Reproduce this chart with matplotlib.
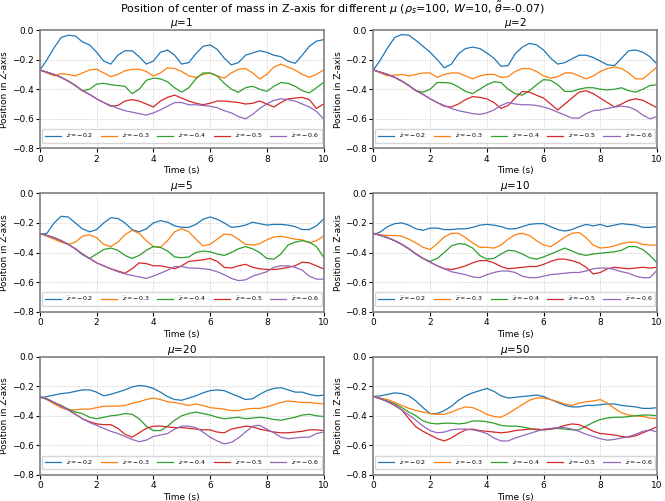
#!/usr/bin/env python3
"""
Position of center of mass in Z-axis for different mu, 3x2 grid.
"""
import matplotlib
matplotlib.use('Agg')
import matplotlib.pyplot as plt
import numpy as np

# time axis, 0.25 s samples
time = np.arange(0, 10.01, 0.25)

z_levels = [-0.2, -0.3, -0.4, -0.5, -0.6]
mu_values = [1, 2, 5, 10, 20, 50]

# ---- mu = 1 ----
mu1_z02 = [-0.27, -0.20, -0.12, -0.05, -0.035, -0.04, -0.08, -0.10, -0.15, -0.21, -0.23,
           -0.17, -0.14, -0.14, -0.18, -0.23, -0.21, -0.15, -0.135, -0.17, -0.23,
           -0.22, -0.16, -0.11, -0.10, -0.13, -0.19, -0.235, -0.22, -0.17, -0.155,
           -0.14, -0.15, -0.17, -0.18, -0.21, -0.225, -0.17, -0.11, -0.075, -0.065]
mu1_z03 = [-0.27, -0.29, -0.31, -0.295, -0.30, -0.31, -0.29, -0.27, -0.265, -0.29, -0.315,
           -0.30, -0.275, -0.265, -0.265, -0.28, -0.31, -0.29, -0.255, -0.26, -0.28,
           -0.31, -0.32, -0.30, -0.29, -0.31, -0.325, -0.29, -0.265, -0.26, -0.29,
           -0.33, -0.30, -0.25, -0.23, -0.25, -0.27, -0.30, -0.32, -0.30, -0.27]
mu1_z04 = [-0.27, -0.285, -0.30, -0.32, -0.345, -0.375, -0.41, -0.40, -0.365, -0.36, -0.37,
           -0.375, -0.38, -0.43, -0.40, -0.34, -0.325, -0.33, -0.35, -0.39, -0.42,
           -0.39, -0.33, -0.29, -0.29, -0.31, -0.36, -0.40, -0.42, -0.39, -0.38,
           -0.40, -0.415, -0.38, -0.355, -0.36, -0.38, -0.41, -0.425, -0.39, -0.355]
mu1_z05 = [-0.27, -0.285, -0.30, -0.32, -0.345, -0.375, -0.41, -0.435, -0.465, -0.49, -0.515,
           -0.51, -0.48, -0.47, -0.48, -0.50, -0.52, -0.48, -0.455, -0.44, -0.46,
           -0.48, -0.495, -0.505, -0.495, -0.48, -0.48, -0.485, -0.49, -0.50, -0.495,
           -0.48, -0.50, -0.52, -0.49, -0.465, -0.46, -0.455, -0.47, -0.53, -0.50]
mu1_z06 = [-0.27, -0.285, -0.30, -0.32, -0.345, -0.375, -0.41, -0.435, -0.465, -0.49, -0.51,
           -0.53, -0.545, -0.555, -0.565, -0.575, -0.56, -0.54, -0.515, -0.49, -0.49,
           -0.505, -0.505, -0.51, -0.515, -0.525, -0.545, -0.56, -0.585, -0.60, -0.57,
           -0.53, -0.50, -0.475, -0.465, -0.47, -0.48, -0.50, -0.52, -0.55, -0.60]

# ---- mu = 2 ----
mu2_z02 = [-0.27, -0.20, -0.12, -0.05, -0.03, -0.035, -0.07, -0.11, -0.15, -0.20, -0.255,
           -0.23, -0.16, -0.125, -0.115, -0.125, -0.155, -0.19, -0.245, -0.24, -0.16,
           -0.115, -0.09, -0.10, -0.135, -0.19, -0.23, -0.22, -0.195, -0.17, -0.17,
           -0.185, -0.21, -0.235, -0.24, -0.19, -0.14, -0.135, -0.15, -0.18, -0.23]
mu2_z03 = [-0.27, -0.29, -0.31, -0.305, -0.30, -0.31, -0.30, -0.29, -0.29, -0.32, -0.30,
           -0.29, -0.29, -0.31, -0.33, -0.31, -0.30, -0.30, -0.32, -0.315, -0.28,
           -0.26, -0.26, -0.28, -0.31, -0.325, -0.315, -0.29, -0.29, -0.31, -0.33,
           -0.31, -0.28, -0.26, -0.25, -0.26, -0.29, -0.33, -0.33, -0.29, -0.25]
mu2_z04 = [-0.27, -0.285, -0.30, -0.32, -0.345, -0.375, -0.41, -0.42, -0.40, -0.355, -0.355,
           -0.36, -0.385, -0.415, -0.43, -0.40, -0.37, -0.35, -0.355, -0.40, -0.43,
           -0.44, -0.41, -0.37, -0.335, -0.34, -0.37, -0.415, -0.415, -0.40, -0.39,
           -0.39, -0.40, -0.405, -0.40, -0.39, -0.41, -0.42, -0.40, -0.375, -0.37]
mu2_z05 = [-0.27, -0.285, -0.30, -0.32, -0.345, -0.375, -0.41, -0.435, -0.465, -0.49, -0.515,
           -0.52, -0.50, -0.47, -0.45, -0.455, -0.465, -0.49, -0.53, -0.51, -0.46,
           -0.415, -0.42, -0.44, -0.46, -0.50, -0.54, -0.50, -0.46, -0.42, -0.41,
           -0.43, -0.46, -0.49, -0.52, -0.50, -0.475, -0.465, -0.475, -0.50, -0.525]
mu2_z06 = [-0.27, -0.285, -0.30, -0.32, -0.345, -0.375, -0.41, -0.435, -0.465, -0.49, -0.51,
           -0.53, -0.545, -0.555, -0.565, -0.57, -0.56, -0.54, -0.51, -0.49, -0.50,
           -0.505, -0.505, -0.51, -0.52, -0.535, -0.555, -0.575, -0.595, -0.595, -0.565,
           -0.545, -0.54, -0.53, -0.52, -0.515, -0.52, -0.54, -0.575, -0.60, -0.585]

# ---- mu = 5 ----
mu5_z02 = [-0.28, -0.27, -0.20, -0.155, -0.16, -0.20, -0.24, -0.26, -0.245, -0.20, -0.165,
           -0.17, -0.20, -0.245, -0.26, -0.24, -0.20, -0.185, -0.195, -0.22, -0.23,
           -0.23, -0.21, -0.175, -0.16, -0.175, -0.20, -0.23, -0.225, -0.215, -0.195,
           -0.205, -0.215, -0.21, -0.21, -0.215, -0.225, -0.245, -0.245, -0.22, -0.175]
mu5_z03 = [-0.27, -0.29, -0.31, -0.33, -0.345, -0.33, -0.29, -0.28, -0.30, -0.345, -0.36,
           -0.33, -0.28, -0.25, -0.27, -0.32, -0.36, -0.365, -0.32, -0.26, -0.24,
           -0.26, -0.31, -0.355, -0.345, -0.31, -0.275, -0.28, -0.31, -0.345, -0.35,
           -0.34, -0.315, -0.295, -0.29, -0.30, -0.31, -0.315, -0.335, -0.32, -0.29]
mu5_z04 = [-0.27, -0.285, -0.30, -0.32, -0.345, -0.375, -0.415, -0.44, -0.41, -0.38, -0.37,
           -0.385, -0.42, -0.44, -0.42, -0.385, -0.36, -0.365, -0.39, -0.43, -0.435,
           -0.43, -0.40, -0.39, -0.395, -0.41, -0.42, -0.40, -0.375, -0.36, -0.375,
           -0.40, -0.44, -0.445, -0.41, -0.35, -0.33, -0.32, -0.33, -0.36, -0.43]
mu5_z05 = [-0.27, -0.285, -0.30, -0.32, -0.345, -0.375, -0.41, -0.44, -0.47, -0.49, -0.51,
           -0.525, -0.54, -0.51, -0.47, -0.475, -0.49, -0.49, -0.50, -0.51, -0.49,
           -0.46, -0.455, -0.45, -0.44, -0.46, -0.50, -0.505, -0.49, -0.48, -0.50,
           -0.51, -0.515, -0.515, -0.51, -0.50, -0.49, -0.465, -0.47, -0.49, -0.51]
mu5_z06 = [-0.27, -0.285, -0.30, -0.32, -0.345, -0.375, -0.41, -0.44, -0.47, -0.49, -0.51,
           -0.53, -0.545, -0.555, -0.565, -0.575, -0.56, -0.54, -0.52, -0.495, -0.495,
           -0.505, -0.505, -0.51, -0.515, -0.53, -0.55, -0.575, -0.59, -0.585, -0.56,
           -0.545, -0.53, -0.50, -0.49, -0.49, -0.50, -0.52, -0.56, -0.58, -0.58]

# ---- mu = 10 ----
mu10_z02 = [-0.28, -0.26, -0.225, -0.205, -0.20, -0.215, -0.24, -0.25, -0.235, -0.235, -0.245,
            -0.245, -0.24, -0.24, -0.23, -0.215, -0.21, -0.215, -0.225, -0.24, -0.24,
            -0.225, -0.21, -0.205, -0.205, -0.225, -0.245, -0.255, -0.245, -0.225, -0.21,
            -0.22, -0.21, -0.225, -0.215, -0.205, -0.21, -0.215, -0.23, -0.23, -0.225]
mu10_z03 = [-0.27, -0.28, -0.285, -0.285, -0.29, -0.31, -0.335, -0.365, -0.38, -0.34, -0.295,
            -0.27, -0.27, -0.30, -0.335, -0.365, -0.365, -0.37, -0.35, -0.31, -0.28,
            -0.27, -0.285, -0.32, -0.35, -0.36, -0.33, -0.295, -0.27, -0.265, -0.30,
            -0.35, -0.37, -0.365, -0.355, -0.34, -0.33, -0.33, -0.345, -0.35, -0.35]
mu10_z04 = [-0.27, -0.285, -0.30, -0.32, -0.345, -0.375, -0.41, -0.44, -0.46, -0.44, -0.40,
            -0.355, -0.34, -0.345, -0.37, -0.42, -0.445, -0.44, -0.41, -0.385, -0.39,
            -0.41, -0.435, -0.445, -0.43, -0.41, -0.39, -0.37, -0.39, -0.41, -0.42,
            -0.41, -0.405, -0.40, -0.395, -0.385, -0.36, -0.36, -0.38, -0.42, -0.47]
mu10_z05 = [-0.27, -0.285, -0.30, -0.32, -0.345, -0.375, -0.41, -0.44, -0.465, -0.49, -0.51,
            -0.515, -0.505, -0.49, -0.47, -0.455, -0.455, -0.47, -0.495, -0.51, -0.505,
            -0.50, -0.495, -0.495, -0.48, -0.46, -0.445, -0.445, -0.455, -0.47, -0.50,
            -0.545, -0.535, -0.51, -0.50, -0.505, -0.51, -0.505, -0.50, -0.505, -0.50]
mu10_z06 = [-0.27, -0.285, -0.30, -0.32, -0.345, -0.375, -0.41, -0.44, -0.465, -0.49, -0.51,
            -0.53, -0.54, -0.55, -0.565, -0.57, -0.55, -0.535, -0.525, -0.525, -0.535,
            -0.56, -0.57, -0.57, -0.56, -0.55, -0.545, -0.54, -0.535, -0.535, -0.525,
            -0.51, -0.505, -0.505, -0.515, -0.53, -0.54, -0.56, -0.57, -0.57, -0.52]

# ---- mu = 20 ----
mu20_z02 = [-0.28, -0.27, -0.26, -0.25, -0.245, -0.235, -0.225, -0.225, -0.24, -0.265, -0.255,
            -0.24, -0.225, -0.205, -0.195, -0.20, -0.215, -0.24, -0.27, -0.29, -0.295,
            -0.28, -0.265, -0.245, -0.23, -0.225, -0.23, -0.25, -0.27, -0.29, -0.285,
            -0.255, -0.23, -0.215, -0.21, -0.225, -0.24, -0.24, -0.255, -0.265, -0.26]
mu20_z03 = [-0.27, -0.29, -0.32, -0.345, -0.36, -0.36, -0.355, -0.355, -0.345, -0.335, -0.335,
            -0.335, -0.33, -0.315, -0.305, -0.29, -0.28, -0.29, -0.305, -0.31, -0.32,
            -0.33, -0.32, -0.33, -0.345, -0.35, -0.355, -0.365, -0.365, -0.355, -0.35,
            -0.35, -0.34, -0.325, -0.31, -0.30, -0.305, -0.31, -0.31, -0.315, -0.32]
mu20_z04 = [-0.27, -0.29, -0.31, -0.33, -0.355, -0.375, -0.385, -0.41, -0.42, -0.41, -0.40,
            -0.395, -0.385, -0.39, -0.42, -0.47, -0.50, -0.50, -0.47, -0.43, -0.40,
            -0.385, -0.375, -0.385, -0.395, -0.41, -0.42, -0.415, -0.41, -0.42, -0.415,
            -0.41, -0.415, -0.425, -0.43, -0.42, -0.41, -0.395, -0.39, -0.40, -0.405]
mu20_z05 = [-0.27, -0.285, -0.31, -0.335, -0.36, -0.39, -0.42, -0.44, -0.455, -0.46, -0.46,
            -0.485, -0.525, -0.545, -0.515, -0.485, -0.47, -0.47, -0.475, -0.48, -0.48,
            -0.485, -0.49, -0.495, -0.495, -0.51, -0.515, -0.49, -0.48, -0.47, -0.475,
            -0.49, -0.50, -0.51, -0.515, -0.515, -0.51, -0.505, -0.495, -0.495, -0.50]
mu20_z06 = [-0.27, -0.285, -0.31, -0.335, -0.36, -0.39, -0.42, -0.445, -0.465, -0.485, -0.505,
            -0.52, -0.54, -0.56, -0.575, -0.565, -0.54, -0.53, -0.52, -0.49, -0.47,
            -0.47, -0.48, -0.51, -0.545, -0.57, -0.59, -0.58, -0.55, -0.51, -0.47,
            -0.465, -0.49, -0.515, -0.545, -0.555, -0.55, -0.545, -0.545, -0.52, -0.51]

# ---- mu = 50 ----
mu50_z02 = [-0.27, -0.265, -0.255, -0.245, -0.25, -0.265, -0.30, -0.345, -0.385, -0.385, -0.365,
            -0.335, -0.295, -0.265, -0.245, -0.23, -0.215, -0.235, -0.265, -0.28, -0.275,
            -0.27, -0.265, -0.26, -0.27, -0.29, -0.31, -0.33, -0.34, -0.34, -0.33,
            -0.33, -0.325, -0.32, -0.32, -0.33, -0.335, -0.34, -0.35, -0.35, -0.345]
mu50_z03 = [-0.27, -0.28, -0.29, -0.31, -0.33, -0.35, -0.365, -0.375, -0.385, -0.39, -0.39,
            -0.375, -0.355, -0.34, -0.345, -0.365, -0.39, -0.405, -0.41, -0.385, -0.355,
            -0.325, -0.295, -0.28, -0.28, -0.29, -0.305, -0.32, -0.33, -0.315, -0.305,
            -0.30, -0.29, -0.315, -0.35, -0.38, -0.395, -0.40, -0.405, -0.415, -0.42]
mu50_z04 = [-0.27, -0.285, -0.30, -0.32, -0.345, -0.375, -0.40, -0.435, -0.45, -0.455, -0.45,
            -0.45, -0.455, -0.45, -0.435, -0.435, -0.44, -0.45, -0.465, -0.47, -0.47,
            -0.475, -0.485, -0.495, -0.495, -0.49, -0.485, -0.49, -0.495, -0.495, -0.47,
            -0.445, -0.425, -0.415, -0.41, -0.41, -0.405, -0.40, -0.395, -0.395, -0.40]
mu50_z05 = [-0.27, -0.285, -0.305, -0.33, -0.36, -0.42, -0.475, -0.505, -0.53, -0.555, -0.57,
            -0.55, -0.52, -0.495, -0.49, -0.50, -0.505, -0.51, -0.515, -0.51, -0.50,
            -0.495, -0.49, -0.49, -0.495, -0.49, -0.48, -0.465, -0.455, -0.46, -0.48,
            -0.505, -0.52, -0.525, -0.53, -0.54, -0.545, -0.535, -0.515, -0.495, -0.475]
mu50_z06 = [-0.27, -0.285, -0.305, -0.33, -0.36, -0.395, -0.43, -0.47, -0.50, -0.515, -0.51,
            -0.495, -0.49, -0.49, -0.495, -0.505, -0.52, -0.55, -0.57, -0.57, -0.55,
            -0.535, -0.52, -0.505, -0.49, -0.485, -0.48, -0.48, -0.49, -0.505, -0.525,
            -0.54, -0.555, -0.565, -0.56, -0.55, -0.54, -0.525, -0.505, -0.495, -0.51]

panels = [
    [mu1_z02, mu1_z03, mu1_z04, mu1_z05, mu1_z06],
    [mu2_z02, mu2_z03, mu2_z04, mu2_z05, mu2_z06],
    [mu5_z02, mu5_z03, mu5_z04, mu5_z05, mu5_z06],
    [mu10_z02, mu10_z03, mu10_z04, mu10_z05, mu10_z06],
    [mu20_z02, mu20_z03, mu20_z04, mu20_z05, mu20_z06],
    [mu50_z02, mu50_z03, mu50_z04, mu50_z05, mu50_z06],
]

colors = ['#1f77b4', '#ff7f0e', '#2ca02c', '#d62728', '#9467bd']

fig, axes = plt.subplots(3, 2, figsize=(6.65, 5.01), dpi=100)
fig.subplots_adjust(left=0.06, right=0.988, top=0.94, bottom=0.052,
                    hspace=0.38, wspace=0.176)

fig.suptitle(r'Position of center of mass in Z-axis for different $\mu$ '
             r'($\rho_s$=100, $W$=10, $\tilde{\theta}$=-0.07)',
             fontsize=8, y=1.0)

for ax, mu, series in zip(axes.flat, mu_values, panels):
    for z, vals, c in zip(z_levels, series, colors):
        ax.plot(time, vals, color=c, linewidth=0.9,
                label=r'$\tilde{z}=%s$' % ('{:.1f}'.format(z)))
    ax.set_title(r'$\mu$=%d' % mu, fontsize=7.5, pad=1.5)
    ax.set_xlim(0, 10)
    ax.set_ylim(-0.8, 0.0)
    ax.set_xticks([0, 2, 4, 6, 8, 10])
    ax.set_yticks([-0.8, -0.6, -0.4, -0.2, 0.0])
    ax.tick_params(labelsize=6.5, length=3, width=0.8, pad=1.5)
    ax.set_xlabel('Time (s)', fontsize=6.5, labelpad=2)
    ax.set_ylabel('Position in Z-axis', fontsize=6.5, labelpad=2)
    ax.grid(True, linestyle=':', color='#c8c8c8', linewidth=0.7)
    for sp in ax.spines.values():
        sp.set_color('#808080')
        sp.set_linewidth(1.2)
    ax.legend(loc='lower center', ncol=5, fontsize=4.5, frameon=True,
              handlelength=2.6, columnspacing=1.2, borderpad=0.45,
              bbox_to_anchor=(0.5, 0.02))

plt.savefig('out.png', dpi=100)
